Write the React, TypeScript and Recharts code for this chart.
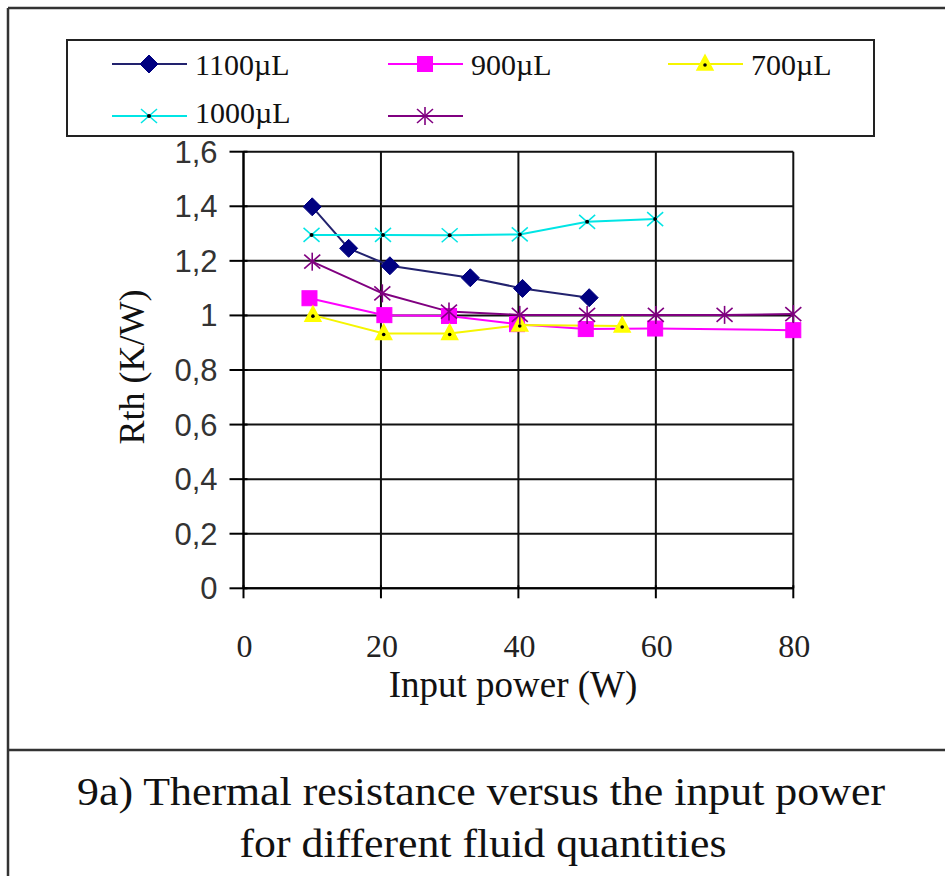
import React from 'react';
import { LineChart, Line, XAxis, YAxis, CartesianGrid } from 'recharts';

// ---- data ----
const xTicks = [0, 20, 40, 60, 80];
const yTicks = [0, 0.2, 0.4, 0.6, 0.8, 1, 1.2, 1.4, 1.6];

const x1100 = [10, 15.3, 21.3, 33, 40.6, 50.3];
const y1100 = [1.398, 1.246, 1.182, 1.138, 1.099, 1.065];

const x900 = [9.6, 20.5, 29.9, 39.8, 49.8, 59.9, 80];
const y900 = [1.063, 1.001, 0.998, 0.968, 0.95, 0.952, 0.946];

const x700 = [10.1, 20.4, 30, 40.2, 55.1];
const y700 = [1.001, 0.934, 0.934, 0.965, 0.961];

const x1000 = [9.9, 20.3, 30, 40.2, 50, 59.9];
const y1000 = [1.295, 1.295, 1.294, 1.297, 1.343, 1.353];

const xUnnamed = [10, 20.2, 29.9, 40.2, 50, 60, 70, 80];
const yUnnamed = [1.197, 1.081, 1.014, 1.002, 1.002, 1.002, 1.002, 1.005];

const seriesNames = ['1100µL', '900µL', '700µL', '1000µL', ''];
const xTitle = 'Input power (W)';
const yTitle = 'Rth (K/W)';
const captionLines = [
  '9a) Thermal resistance versus the input power',
  'for different fluid quantities',
];

const toPoints = (xs: number[], ys: number[]) => xs.map((x, i) => ({ x, y: ys[i] }));

const SERIF = "'Liberation Serif', 'Times New Roman', Times, serif";
const SANS = "'Liberation Sans', Arial, Helvetica, sans-serif";

// ---- markers ----
type MP = { cx: number; cy: number };
const Diamond = ({ cx, cy }: MP) => (
  <polygon
    points={`${cx},${cy - 9} ${cx + 9},${cy} ${cx},${cy + 9} ${cx - 9},${cy}`}
    fill="#000080"
    stroke="#000080"
    strokeWidth={1}
  />
);
const Square = ({ cx, cy }: MP) => (
  <rect x={cx - 7.5} y={cy - 7.5} width={15} height={15} fill="#FF00FF" stroke="#FF00FF" />
);
const Triangle = ({ cx, cy }: MP) => (
  <g>
    <polygon points={`${cx},${cy - 9} ${cx + 8},${cy + 6} ${cx - 8},${cy + 6}`} fill="#FFFF00" stroke="#FFFF00" strokeWidth={1.5} />
    <circle cx={cx} cy={cy + 1} r={1.8} fill="#000" />
  </g>
);
const CrossDot = ({ cx, cy }: MP) => (
  <g stroke="#00E5E5" strokeWidth={1.5}>
    <line x1={cx - 8} y1={cy - 7} x2={cx + 8} y2={cy + 7} />
    <line x1={cx - 8} y1={cy + 7} x2={cx + 8} y2={cy - 7} />
    <circle cx={cx} cy={cy} r={2} fill="#000" stroke="none" />
  </g>
);
const Asterisk = ({ cx, cy }: MP) => (
  <g stroke="#800080" strokeWidth={1.6}>
    <line x1={cx - 8} y1={cy - 7} x2={cx + 8} y2={cy + 7} />
    <line x1={cx - 8} y1={cy + 7} x2={cx + 8} y2={cy - 7} />
    <line x1={cx} y1={cy - 9} x2={cx} y2={cy + 9} />
  </g>
);

const markers = [Diamond, Square, Triangle, CrossDot, Asterisk];
const lineColors = ['#22226e', '#FF00FF', '#F5F500', '#00E5E5', '#800080'];

const mkDot = (M: (p: MP) => React.ReactElement) => (props: any) => {
  const { cx, cy, index } = props;
  if (cx == null || cy == null) return <g key={`e${index}`} />;
  return <g key={`m${index}`}>{M({ cx, cy })}</g>;
};

const fmt = (v: number) => String(v).replace('.', ',');

const YTick = (props: any) => {
  const { x, y, payload } = props;
  const ax = x + 26;
  return (
    <g>
      <line x1={ax - 14} x2={ax + 4} y1={y} y2={y} stroke="#000" strokeWidth={2} />
      <text x={x} y={y + 11} textAnchor="end" fontFamily={SANS} fontSize={31} fill="#333">
        {fmt(payload.value)}
      </text>
    </g>
  );
};

const XTick = (props: any) => {
  const { x, y, payload } = props;
  return (
    <g>
      <line x1={x} x2={x} y1={y - 3} y2={y + 10} stroke="#000" strokeWidth={2} />
      <text x={x + 1} y={y + 69} textAnchor="middle" fontFamily={SERIF} fontSize={32} fill="#222">
        {payload.value}
      </text>
    </g>
  );
};

const series = [
  toPoints(x1100, y1100),
  toPoints(x900, y900),
  toPoints(x700, y700),
  toPoints(x1000, y1000),
  toPoints(xUnnamed, yUnnamed),
];

const legendCols = [112, 388, 668];
const legendRows = [
  { y: 64, base: 75 },
  { y: 116, base: 123 },
];

export default function App() {
  return (
    <div style={{ position: 'absolute', left: 0, top: 0, width: 945, height: 876, background: '#fff' }}>
      <svg width={945} height={876} style={{ position: 'absolute', left: 0, top: 0 }}>
        {/* outer frame */}
        <line x1={8} y1={8} x2={945} y2={8} stroke="#333" strokeWidth={2.5} />
        <line x1={8} y1={8} x2={8} y2={876} stroke="#333" strokeWidth={2.5} />
        <line x1={8} y1={750} x2={945} y2={750} stroke="#333" strokeWidth={2.5} />
        {/* legend */}
        <rect x={67} y={40} width={807} height={96} fill="#fff" stroke="#222" strokeWidth={2} />
        {seriesNames.map((name, i) => {
          const col = legendCols[i % 3];
          const row = legendRows[Math.floor(i / 3)];
          const M = markers[i];
          return (
            <g key={i}>
              <line x1={col} x2={col + 75} y1={row.y} y2={row.y} stroke={lineColors[i]} strokeWidth={2} />
              <M cx={col + 37} cy={row.y} />
              <text x={col + 83} y={row.base} fontFamily={SERIF} fontSize={30} fill="#111">
                {name}
              </text>
            </g>
          );
        })}
        {/* axis titles */}
        <text x={513} y={697} textAnchor="middle" fontFamily={SERIF} fontSize={37} fill="#111">
          {xTitle}
        </text>
        <text
          x={0}
          y={0}
          transform="translate(144,367) rotate(-90)"
          textAnchor="middle"
          fontFamily={SERIF}
          fontSize={36}
          fill="#111"
        >
          {yTitle}
        </text>
        {/* caption */}
        <text x={481} y={805} textAnchor="middle" fontFamily={SERIF} fontSize={39} fill="#111" textLength={808} lengthAdjust="spacingAndGlyphs">
          {captionLines[0]}
        </text>
        <text x={483} y={857} textAnchor="middle" fontFamily={SERIF} fontSize={39} fill="#111" textLength={487} lengthAdjust="spacingAndGlyphs">
          {captionLines[1]}
        </text>
      </svg>
      <div style={{ position: 'absolute', left: 0, top: 0 }}>
        <LineChart
          width={945}
          height={876}
          margin={{ top: 151.7, right: 151.7, bottom: 876 - 588.3 - 40, left: 243.5 - 60 }}
        >
          <CartesianGrid stroke="#111" strokeWidth={2} horizontalValues={yTicks} verticalValues={xTicks} />
          <XAxis
            type="number"
            dataKey="x"
            domain={[0, 80]}
            ticks={xTicks}
            height={40}
            tickSize={0}
            tickMargin={0}
            tickLine={false}
            tick={<XTick />}
            axisLine={{ stroke: '#000', strokeWidth: 2 }}
            allowDuplicatedCategory={false}
          />
          <YAxis
            type="number"
            dataKey="y"
            domain={[0, 1.6]}
            ticks={yTicks}
            width={60}
            tickSize={0}
            tickMargin={26}
            tickLine={false}
            tick={<YTick />}
            axisLine={{ stroke: '#000', strokeWidth: 2 }}
          />
          {series.map((d, i) => (
            <Line
              key={i}
              data={d}
              dataKey="y"
              name={seriesNames[i] || 'series5'}
              stroke={lineColors[i]}
              strokeWidth={2}
              dot={mkDot(markers[i])}
              activeDot={false}
              isAnimationActive={false}
            />
          ))}
        </LineChart>
      </div>
    </div>
  );
}
